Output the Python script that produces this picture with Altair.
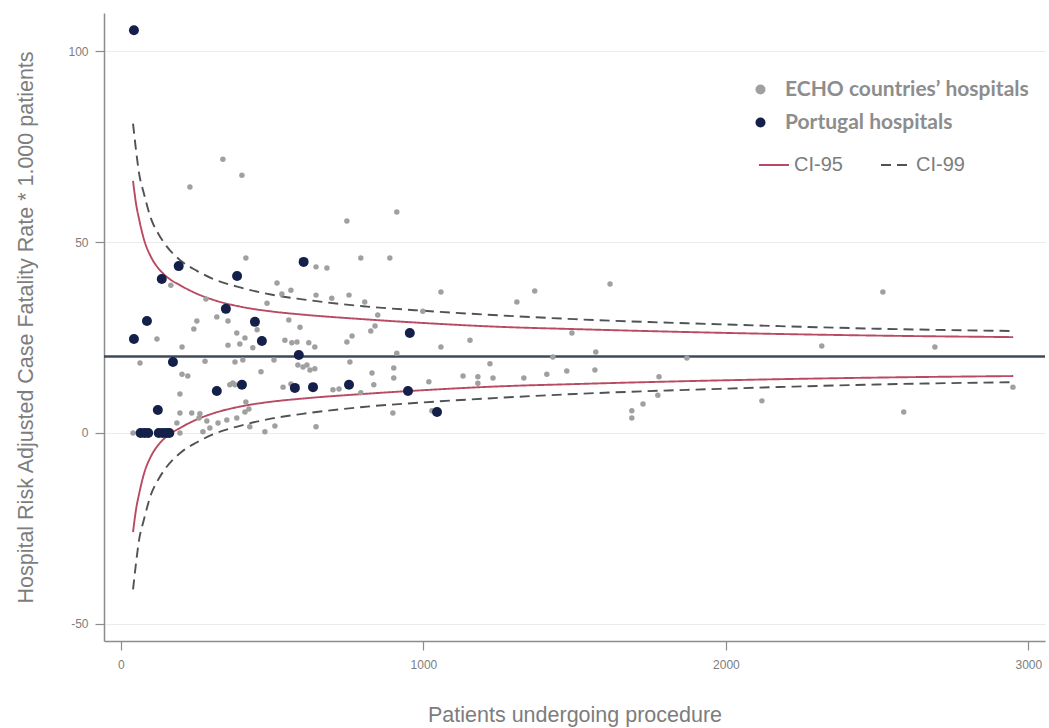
import altair as alt
import pandas as pd

# ECHO countries' hospitals: patients undergoing procedure, risk-adjusted CFR per 1,000
echo_n = [337, 400, 228, 747, 912, 793, 889, 645, 681, 1058, 1368, 1309, 1617, 645, 754, 697,
          806, 849, 840, 826, 764, 747, 621, 1154, 1491, 1058, 998,
          2519, 2317, 2691, 1871, 1779, 1775, 2119, 2588, 2949,
          641, 912, 1570, 1428, 757, 1220, 641, 615, 830, 902, 902, 1131, 1180, 1230, 1332,
          1408, 1474, 1567, 836, 1018, 721, 899, 645, 1726, 1689, 1689, 1180, 793, 1028,
          413, 165, 516, 562, 532, 281, 483, 317, 354, 251, 555, 592, 450, 241, 383, 410,
          436, 354, 542, 565, 119, 202, 63, 278, 377, 403, 506, 585, 602, 625, 202, 221,
          463, 360, 377, 536, 562, 195, 701, 195, 234, 261, 284, 271, 321, 350, 410, 423,
          413, 476, 509, 195, 185, 40, 258, 393, 582, 370, 426, 383, 294]
echo_rate = [71.7, 67.5, 64.4, 55.5, 57.9, 45.8, 45.8, 43.5, 43.2, 36.9, 37.2, 34.3, 39.0, 36.1, 36.1, 35.3,
             34.3, 30.9, 28.0, 26.7, 25.4, 23.8, 23.6, 24.3, 26.2, 22.5, 31.9,
             36.9, 22.8, 22.5, 19.6, 14.7, 9.9, 8.4, 5.5, 12.0,
             22.5, 20.9, 21.2, 19.9, 18.6, 18.1, 16.8, 17.8, 15.7, 17.0, 14.4, 14.9, 14.7, 14.4, 14.4,
             15.4, 16.2, 16.5, 12.6, 13.4, 11.5, 5.2, 1.6, 7.6, 5.8, 3.9, 13.0, 10.5, 5.8,
             45.8, 38.7, 39.3, 37.4, 36.4, 35.1, 34.0, 30.4, 29.3, 29.3, 29.6, 27.7, 27.0, 27.2, 26.2, 24.9,
             22.3, 23.0, 24.3, 23.6, 24.6, 22.5, 18.3, 18.8, 18.6, 19.1, 19.1, 17.8, 17.3, 16.5, 15.4, 14.9,
             16.0, 12.6, 12.6, 12.0, 12.8, 10.2, 11.3, 5.2, 5.2, 5.0, 3.1, 0.3, 2.6, 3.4, 5.5, 6.3,
             8.1, 0.3, 1.8, 0.0, 2.6, 0.0, 3.9, 23.3, 23.8, 13.1, 1.6, 3.9, 1.3]

# Portugal hospitals
pt_n = [43, 43, 86, 135, 191, 384, 604, 347, 443, 466, 588, 172, 317, 400, 575, 635,
        754, 949, 1045, 955, 122, 65, 78, 90, 125, 138, 150, 160]
pt_rate = [105.5, 24.6, 29.3, 40.3, 43.7, 41.1, 44.8, 32.5, 29.1, 24.1, 20.4, 18.6, 11.0, 12.6, 11.8, 12.0,
           12.6, 11.0, 5.5, 26.2, 6.0, 0.0, 0.0, 0.0, 0.0, 0.0, 0.0, 0.0]

# Overall rate and control limits
overall_rate = 20
ci_n = [40, 50, 60, 75, 100, 125, 150, 200, 250, 300, 400, 500, 600, 800, 1000, 1250, 1500, 2000, 2500, 2950]
ci95_upper = [66, 60, 56, 51, 46, 43, 41, 38.5, 36.5, 35, 33, 31.8, 31, 29.8, 28.8, 27.8, 27.2, 26.2, 25.5, 25.1]
ci95_lower = [-26, -20, -16, -11, -6, -3, -1, 1.5, 3.5, 5, 7, 8.2, 9, 10.2, 11.2, 12.2, 12.8, 13.8, 14.5, 14.9]
ci99_upper = [81, 74, 68, 63, 56, 52, 49, 45, 42.5, 40.5, 38, 36.2, 35, 33.2, 32, 30.8, 29.8, 28.4, 27.3, 26.7]
ci99_lower = [-41, -34, -28, -23, -16, -12, -9, -5, -2.5, -0.5, 2, 3.8, 5, 6.8, 8, 9.2, 10.2, 11.6, 12.7, 13.3]

groups = ["ECHO countries\u2019 hospitals", "Portugal hospitals"]
ci_names = ["CI-95", "CI-99"]

points = pd.concat([
    pd.DataFrame({"n": echo_n, "rate": echo_rate, "group": groups[0], "z": 0}),
    pd.DataFrame({"n": pt_n, "rate": pt_rate, "group": groups[1], "z": 1}),
], ignore_index=True)

limits = pd.concat([
    pd.DataFrame({"n": ci_n, "rate": ci95_upper, "ci": "CI-95", "side": "95u"}),
    pd.DataFrame({"n": ci_n, "rate": ci95_lower, "ci": "CI-95", "side": "95l"}),
    pd.DataFrame({"n": ci_n, "rate": ci99_upper, "ci": "CI-99", "side": "99u"}),
    pd.DataFrame({"n": ci_n, "rate": ci99_lower, "ci": "CI-99", "side": "99l"}),
], ignore_index=True)

AX_FONT = "Liberation Sans"
GREY_TXT = "#7d7d7d"
PLAIN_NUM = "'' + datum.value"

x_scale = alt.Scale(domain=[-56, 3055], nice=False, zero=False)
y_scale = alt.Scale(domain=[-54.5, 110], nice=False, zero=False)

x_enc = alt.X("n:Q", scale=x_scale,
              axis=alt.Axis(title="Patients undergoing procedure", values=[0, 1000, 2000, 3000],
                            labelExpr=PLAIN_NUM, grid=False, titlePadding=34))
y_enc = alt.Y("rate:Q", scale=y_scale,
              axis=alt.Axis(title="Hospital Risk Adjusted Case Fatality Rate * 1.000 patients",
                            values=[-50, 0, 50, 100], labelExpr=PLAIN_NUM, grid=True, titlePadding=30))

line_legend = alt.Legend(title=None, orient="none", legendX=654, legendY=136, direction="horizontal",
                         symbolType="stroke", symbolSize=900, symbolStrokeWidth=2,
                         labelFont=AX_FONT, labelFontSize=20, labelColor=GREY_TXT,
                         labelOffset=4, columnPadding=34, padding=0)

lines = alt.Chart(limits).mark_line(strokeWidth=1.9, interpolate="monotone").encode(
    x=x_enc,
    y=y_enc,
    stroke=alt.Stroke("ci:N", scale=alt.Scale(domain=ci_names, range=["#b84a63", "#4f5257"]),
                      legend=line_legend),
    strokeDash=alt.StrokeDash("ci:N", scale=alt.Scale(domain=ci_names, range=[[1, 0], [10, 6]]),
                              legend=line_legend),
    detail="side:N",
)

centre = alt.Chart(pd.DataFrame({"rate": [overall_rate]})).mark_rule(
    color="#3e4a59", strokeWidth=2.5
).encode(y=alt.Y("rate:Q", scale=y_scale))

dots = alt.Chart(points).mark_circle(opacity=1).encode(
    x=x_enc,
    y=y_enc,
    fill=alt.Fill("group:N", scale=alt.Scale(domain=groups, range=["#a0a0a0", "#14204a"]),
                  legend=alt.Legend(title=None, orient="none", legendX=646, legendY=66,
                                    symbolSize=100, symbolType="circle", symbolStrokeWidth=0,
                                    labelFont="Lato", labelFontSize=21, labelFontWeight="bold",
                                    labelColor="#8d8d8d", labelOffset=14, labelLimit=400,
                                    rowPadding=11, padding=0)),
    size=alt.Size("z:O", scale=alt.Scale(domain=[0, 1], range=[30, 100]), legend=None),
    order=alt.Order("z:Q"),
)

chart = alt.layer(lines, centre, dots).properties(
    width=941, height=628,
    autosize=alt.AutoSizeParams(type="none"),
    padding={"left": 104, "top": 13, "right": 4, "bottom": 87},
).configure_view(stroke=None).configure_axis(
    domainColor="#8c8c8c", domainWidth=1.5,
    tickColor="#8c8c8c", tickSize=9, tickWidth=1.2,
    labelFont=AX_FONT, labelFontSize=12, labelColor=GREY_TXT, labelPadding=7,
    titleFont=AX_FONT, titleFontSize=21.5, titleColor=GREY_TXT, titleFontWeight="normal",
    gridColor="#ebebeb", gridWidth=1.2,
).configure_axisX(labelPadding=9)

chart.save("out.html", embed_options={"renderer": "svg", "actions": False})
